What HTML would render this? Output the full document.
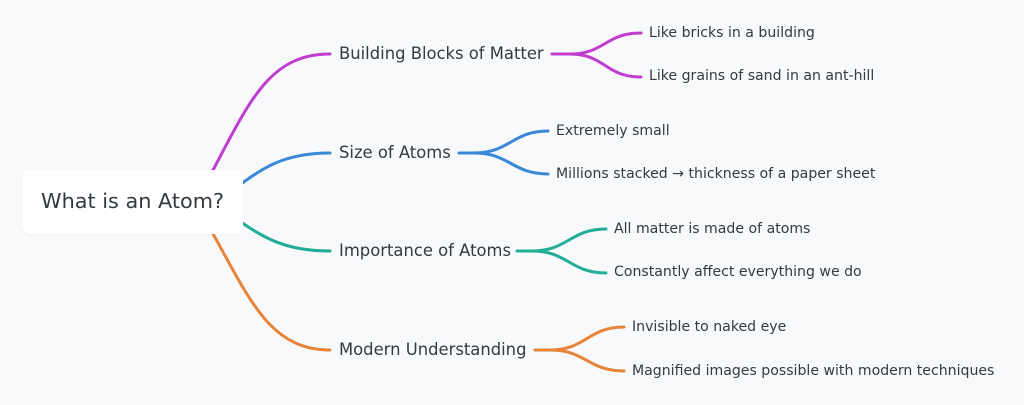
<!DOCTYPE html>
<html><head><meta charset="utf-8"><style>
html,body{margin:0;padding:0;background:#f8f9fb;}
body{width:1024px;height:405px;position:relative;overflow:hidden;font-family:"DejaVu Sans","Liberation Sans",sans-serif;color:#333a40;}
.root{position:absolute;left:22px;top:170px;width:221px;height:64px;background:#fff;border-radius:8px;box-shadow:0 1px 3px rgba(0,0,0,0.04);}
.t{position:absolute;white-space:nowrap;line-height:1;}
.r{left:41px;top:191px;font-size:20.8px;}
.l1{font-size:16.4px;}
.l2{font-size:14.1px;}
svg{position:absolute;left:0;top:0;}
</style></head><body>
<svg width="1024" height="405" fill="none" stroke-width="3" stroke-linecap="round">
<path d="M212 172 C250 100,270 54,330 54" stroke="#c13cd0"/>
<path d="M226 195 C260 170,280 153,330 153" stroke="#3a89d9"/>
<path d="M226 212 C260 235,280 251,330 251" stroke="#21ad98"/>
<path d="M212 232 C250 300,270 350,330 350" stroke="#e8843a"/>
</svg>
<div class="root"></div>
<svg width="1024" height="405" fill="none" stroke-width="3" stroke-linecap="round">
<path d="M552 54 L570 54 C605 54,605 33,641 33 M570 54 C605 54,605 77,641 77" stroke="#c13cd0"/>
<path d="M459 153 L474 153 C510 153,512 131,548 131 M474 153 C510 153,512 174,548 174" stroke="#3a89d9"/>
<path d="M517 251 L532 251 C568 251,570 229,606 229 M532 251 C568 251,570 273,606 273" stroke="#21ad98"/>
<path d="M535 350 L550 350 C586 350,588 327,624 327 M550 350 C586 350,588 371,624 371" stroke="#e8843a"/>
</svg>
<div class="t r">What is an Atom?</div>
<div class="t l1" style="left:339px;top:46px">Building Blocks of Matter</div>
<div class="t l1" style="left:339px;top:145px">Size of Atoms</div>
<div class="t l1" style="left:339px;top:243px">Importance of Atoms</div>
<div class="t l1" style="left:339px;top:342px">Modern Understanding</div>
<div class="t l2" style="left:649px;top:26px">Like bricks in a building</div>
<div class="t l2" style="left:649px;top:69px">Like grains of sand in an ant-hill</div>
<div class="t l2" style="left:556px;top:124px">Extremely small</div>
<div class="t l2" style="left:556px;top:167px">Millions stacked → thickness of a paper sheet</div>
<div class="t l2" style="left:614px;top:222px">All matter is made of atoms</div>
<div class="t l2" style="left:614px;top:265px">Constantly affect everything we do</div>
<div class="t l2" style="left:632px;top:320px">Invisible to naked eye</div>
<div class="t l2" style="left:632px;top:364px">Magnified images possible with modern techniques</div>
</body></html>
